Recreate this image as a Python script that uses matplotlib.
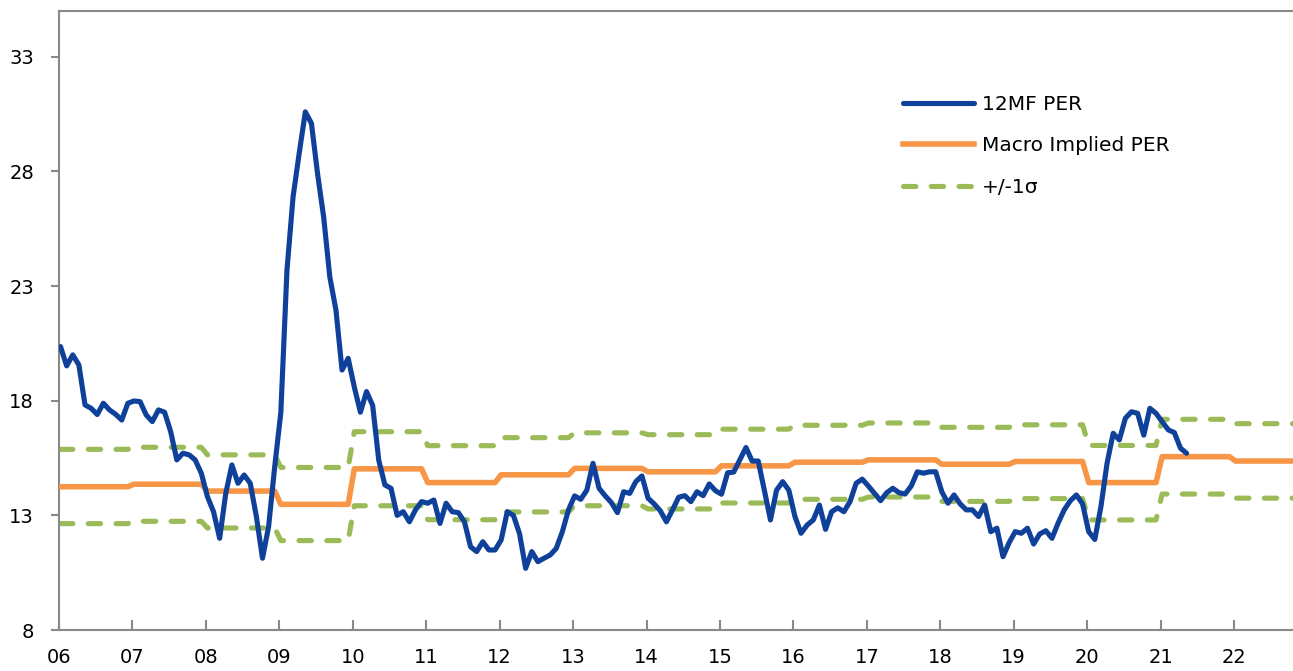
import numpy as np
import matplotlib
matplotlib.use('Agg')
import matplotlib.pyplot as plt

# 12MF PER, monthly from Jan 2006 to May 2021
per_12mf = [20.36, 19.52, 20.0, 19.56, 17.82, 17.67, 17.4, 17.89, 17.6, 17.41,
            17.16, 17.89, 17.99, 17.96, 17.38, 17.09, 17.6, 17.5, 16.65, 15.42,
            15.71, 15.64, 15.42, 14.84, 13.82, 13.16, 12.0, 13.96, 15.2, 14.4,
            14.76, 14.4, 12.95, 11.13, 12.51, 15.13, 17.5,
            23.7, 26.9, 28.8, 30.6, 30.1, 27.9, 26.0, 23.4, 21.96, 19.34,
            19.85, 18.6, 17.5, 18.4, 17.8,
            15.4, 14.33, 14.18, 13.0, 13.16, 12.72, 13.24, 13.6, 13.53, 13.67,
            12.65, 13.53, 13.16, 13.12, 12.72, 11.63, 11.42, 11.85, 11.49, 11.49,
            11.93, 13.16, 13.0, 12.2, 10.69, 11.42, 10.98, 11.13, 11.27, 11.56,
            12.29, 13.24, 13.85, 13.7, 14.1, 15.27, 14.18, 13.85, 13.56, 13.12,
            14.03, 13.96, 14.47, 14.72, 13.75, 13.5, 13.2, 12.72, 13.24, 13.79,
            13.86, 13.6, 14.03, 13.86, 14.37, 14.08, 13.92, 14.86, 14.89, 15.42,
            15.96, 15.37, 15.37, 14.1, 12.8, 14.1, 14.47, 14.1, 12.95, 12.22,
            12.58, 12.8, 13.45, 12.39, 13.16, 13.33, 13.16,
            13.6, 14.4, 14.58, 14.28, 13.96, 13.64, 13.99, 14.18, 13.99, 13.93,
            14.28, 14.9, 14.84, 14.9, 14.9, 14.03, 13.53, 13.89, 13.5, 13.24,
            13.24, 12.95, 13.45, 12.29, 12.44, 11.2, 11.81, 12.29, 12.22, 12.44,
            11.75, 12.19, 12.33, 12.0, 12.66, 13.24, 13.64, 13.89, 13.5, 12.29,
            11.95, 13.38, 15.27, 16.58, 16.29, 17.24, 17.52, 17.45, 16.5, 17.67,
            17.45, 17.09, 16.73, 16.61, 15.93, 15.71]

# yearly levels 2006..2022 (constant within each year)
years = list(range(2006, 2023))
macro_per = [14.25, 14.36, 14.06, 13.48, 15.03, 14.43, 14.77, 15.05, 14.9,
             15.16, 15.32, 15.42, 15.23, 15.35, 14.43, 15.56, 15.37]
band_hi = [15.88, 15.97, 15.64, 15.09, 16.65, 16.04, 16.39, 16.6, 16.52,
           16.76, 16.93, 17.03, 16.84, 16.95, 16.05, 17.19, 17.0]
band_lo = [12.64, 12.74, 12.45, 11.9, 13.42, 12.81, 13.15, 13.42, 13.28,
           13.54, 13.7, 13.8, 13.61, 13.73, 12.8, 13.93, 13.75]

tick_labels = ['06', '07', '08', '09', '10', '11', '12', '13', '14', '15',
               '16', '17', '18', '19', '20', '21', '22']

# monthly x positions (decimal years)
t_per = 2006 + (np.arange(len(per_12mf)) + 0.25) / 12
t_macro = 2006 + (np.arange(len(years) * 12) + 0.25) / 12
macro_m = np.repeat(macro_per, 12)
hi_m = np.repeat(band_hi, 12)
lo_m = np.repeat(band_lo, 12)

blue = '#0F419B'
orange = '#F79646'
green = '#9BBB59'
grey = '#898989'

fig = plt.figure(figsize=(12.93, 6.71), dpi=100)
ax = fig.add_axes([59/1293, 41/671, 1 - 59/1293, 1 - 52/671])

ax.plot(t_per, per_12mf, color=blue, lw=3.7, label='12MF PER', zorder=4,
        solid_joinstyle='round', solid_capstyle='round')
ax.plot(t_macro, macro_m, color=orange, lw=4.0, label='Macro Implied PER', zorder=3,
        solid_joinstyle='round')
ax.plot(t_macro, hi_m, color=green, lw=3.7, dashes=(2.4, 3.0),
        dash_capstyle='round', label='+/-1σ', zorder=2)
ax.plot(t_macro, lo_m, color=green, lw=3.7, dashes=(2.4, 3.0),
        dash_capstyle='round', zorder=2)

ax.set_xlim(2006, 2006 + (1293 - 59) / 73.44)
ax.set_ylim(8, 35)
ax.set_yticks([8, 13, 18, 23, 28, 33])
ax.set_xticks(years)
ax.set_xticklabels(tick_labels)

for s in ['left', 'bottom', 'top']:
    ax.spines[s].set_color(grey)
    ax.spines[s].set_linewidth(1.5)
ax.spines['right'].set_visible(False)

ax.tick_params(axis='y', direction='out', length=6, width=1.5, color=grey,
               labelsize=14, pad=12)
ax.tick_params(axis='x', direction='in', length=7, width=1.5, color=grey,
               labelsize=14, pad=13)

leg = fig.legend(loc='upper left', bbox_to_anchor=(903/1293, 1 - 95/671),
                 frameon=False, fontsize=14.5, handlelength=3.55,
                 handletextpad=0.35, labelspacing=1.11, borderpad=0,
                 borderaxespad=0)

fig.savefig('out.png', dpi=100)
